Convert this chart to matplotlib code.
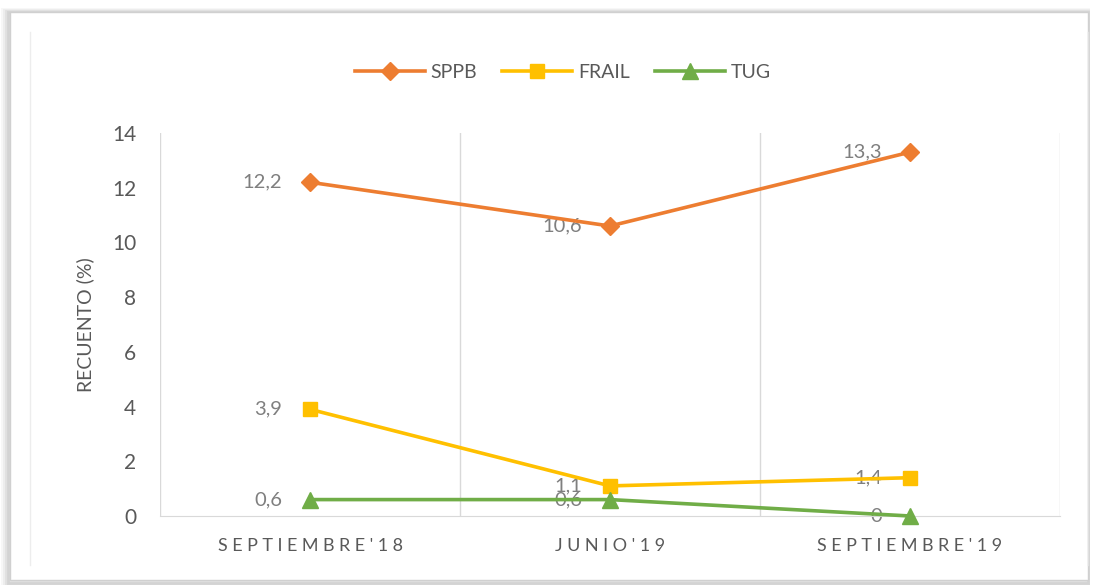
import matplotlib
matplotlib.use("Agg")
import matplotlib.pyplot as plt
from matplotlib.patches import Rectangle

categories = ["SEPTIEMBRE'18", "JUNIO'19", "SEPTIEMBRE'19"]
sppb = [12.2, 10.6, 13.3]
frail = [3.9, 1.1, 1.4]
tug = [0.6, 0.6, 0.0]
yticks = [0, 2, 4, 6, 8, 10, 12, 14]

plt.rcParams['font.family'] = ['Lato', 'DejaVu Sans']

fig = plt.figure(figsize=(11, 5.85), dpi=100)
fig.patch.set_facecolor('white')

# frame with shadow
for i, a in enumerate([0.06, 0.05, 0.04, 0.03]):
    fig.patches.append(Rectangle((8/1100 - i*0.001, 2/585), 1080/1100, 571/585,
                                 transform=fig.transFigure, facecolor='none',
                                 edgecolor=(0, 0, 0, a), lw=2 + i*1.5, zorder=-3))
fig.patches.append(Rectangle((10/1100, 5/585), 1078/1100, 568/585,
                             transform=fig.transFigure, facecolor='white',
                             edgecolor='#d0d0d0', lw=1, zorder=-2))
fig.add_artist(plt.Line2D([30/1100, 30/1100], [20/585, 553/585], color='#ededed', lw=1, zorder=-1))
fig.add_artist(plt.Line2D([1088/1100, 1088/1100], [20/585, 553/585], color='#e0e0e0', lw=1, zorder=-1))

ax = fig.add_axes([160/1100, 1 - 516/585, 900/1100, 383/585])
ax.set_zorder(2)
ax.set_facecolor('none')
x = list(range(len(categories)))

def letterspace(s):
    return '\u2005'.join(s)

ax.plot(x, sppb, color='#ED7D31', lw=2.6, marker='D', ms=9, label='SPPB', zorder=3, clip_on=False)
ax.plot(x, frail, color='#FFC000', lw=2.6, marker='s', ms=10, label='FRAIL', zorder=3, clip_on=False)
ax.plot(x, tug, color='#70AD47', lw=2.6, marker='^', ms=11, label='TUG', zorder=3, clip_on=False)

def fmt(v):
    s = ('%.1f' % v).rstrip('0').rstrip('.')
    return s.replace('.', ',')

for series in (sppb, frail, tug):
    for xi, v in zip(x, series):
        ax.annotate(fmt(v), (xi, v), xytext=(-20, 0), textcoords='offset points',
                    ha='right', va='center', fontsize=14.5, color='#7f7f7f', zorder=2)

ax.set_xlim(-0.5, 2.5)
ax.set_ylim(0, 14)
ax.set_yticks(yticks)
ax.set_yticklabels([str(t) for t in yticks], fontsize=15, color='#595959')
ax.set_xticks(x)
ax.set_xticklabels([letterspace(c) for c in categories], fontsize=13, color='#595959')
ax.tick_params(axis='y', length=0, pad=17)
ax.tick_params(axis='x', length=0, pad=16)
ax.set_xticks([-0.5, 0.5, 1.5, 2.5], minor=True)
ax.tick_params(axis='x', which='minor', length=0)
ax.grid(True, axis='x', which='minor', color='#d9d9d9', lw=1)
ax.grid(False, axis='x', which='major')
for s in ['top', 'right', 'left']:
    ax.spines[s].set_visible(False)
ax.spines['bottom'].set_color('#d9d9d9')
ax.set_ylabel('RECUENTO (%)', fontsize=14, color='#595959', labelpad=13)

leg = fig.legend(loc='center', bbox_to_anchor=(563/1100, 1 - 72/585), ncol=3,
                 frameon=False, fontsize=14, handlelength=3.6, columnspacing=1.3,
                 handletextpad=0.3, labelcolor='#595959')

fig.savefig('out.png', dpi=100, facecolor='white')
